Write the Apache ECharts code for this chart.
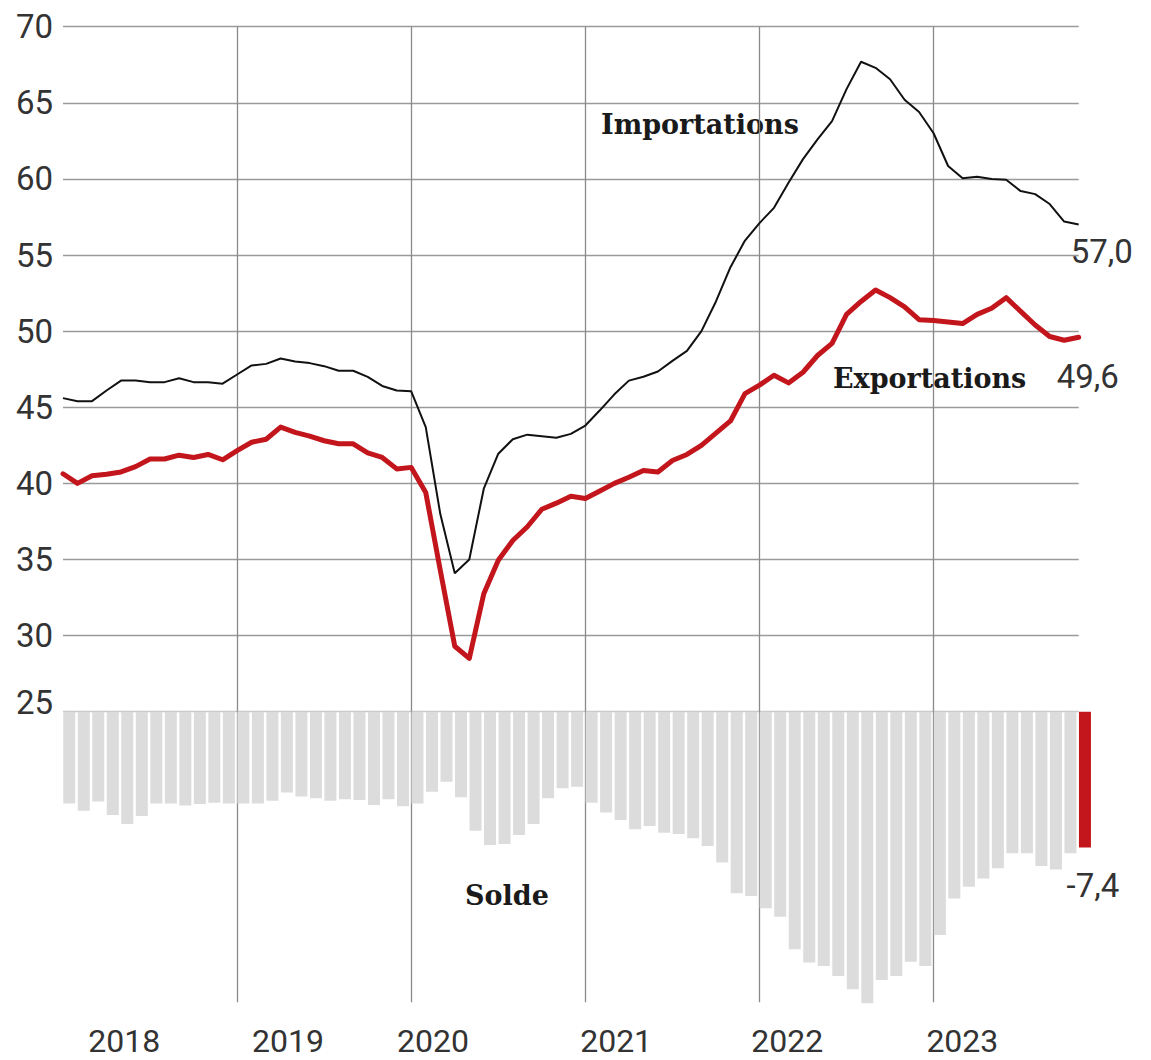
<!DOCTYPE html>
<html><head><meta charset="utf-8">
<script src="https://cdn.jsdelivr.net/npm/echarts@6/dist/echarts.min.js"></script>
<style>html,body{margin:0;padding:0;background:#fff}#c{width:1151px;height:1060px}</style>
</head><body><div id="c"></div>
<script>
// ---- DATA ----
const months = [
 '2018-01','2018-02','2018-03','2018-04','2018-05','2018-06','2018-07','2018-08','2018-09','2018-10','2018-11','2018-12',
 '2019-01','2019-02','2019-03','2019-04','2019-05','2019-06','2019-07','2019-08','2019-09','2019-10','2019-11','2019-12',
 '2020-01','2020-02','2020-03','2020-04','2020-05','2020-06','2020-07','2020-08','2020-09','2020-10','2020-11','2020-12',
 '2021-01','2021-02','2021-03','2021-04','2021-05','2021-06','2021-07','2021-08','2021-09','2021-10','2021-11','2021-12',
 '2022-01','2022-02','2022-03','2022-04','2022-05','2022-06','2022-07','2022-08','2022-09','2022-10','2022-11','2022-12',
 '2023-01','2023-02','2023-03','2023-04','2023-05','2023-06','2023-07','2023-08','2023-09','2023-10','2023-11'
];
const importations = [
 45.6, 45.4, 45.4, 46.1, 46.75, 46.75, 46.65, 46.65, 46.9, 46.65, 46.65, 46.55,
 47.15, 47.75, 47.85, 48.2, 48.0, 47.9, 47.7, 47.4, 47.4, 47.0, 46.4, 46.1,
 46.05, 43.7, 38.0, 34.1, 35.0, 39.65, 41.95, 42.9, 43.2, 43.1, 43.0, 43.25,
 43.8, 44.8, 45.85, 46.75, 47.0, 47.35, 48.05, 48.7, 50.0, 51.95, 54.2, 55.95,
 57.1, 58.1, 59.75, 61.3, 62.6, 63.8, 65.9, 67.7, 67.3, 66.55, 65.2, 64.4,
 63.0, 60.85, 60.05, 60.15, 60.0, 59.95, 59.2, 59.0, 58.35, 57.2, 57.0
];
const exportations = [
 40.63, 40.0, 40.5, 40.6, 40.75, 41.1, 41.6, 41.6, 41.85, 41.7, 41.9, 41.55,
 42.15, 42.7, 42.9, 43.7, 43.35, 43.1, 42.8, 42.6, 42.6, 42.0, 41.7, 40.95,
 41.05, 39.4, 34.3, 29.3, 28.5, 32.75, 34.95, 36.25, 37.15, 38.3, 38.7, 39.15,
 39.0, 39.5, 40.0, 40.4, 40.85, 40.75, 41.5, 41.9, 42.5, 43.3, 44.1, 45.9,
 46.45, 47.1, 46.6, 47.3, 48.4, 49.2, 51.1, 51.95, 52.7, 52.2, 51.6, 50.75,
 50.7, 50.6, 50.5, 51.1, 51.5, 52.2, 51.3, 50.4, 49.65, 49.4, 49.6
];
const solde = [
 -5.0, -5.4, -4.9, -5.63, -6.12, -5.69, -5.0, -5.0, -5.12, -5.03, -4.96, -5.0,
 -5.0, -5.0, -4.85, -4.41, -4.63, -4.72, -4.85, -4.78, -4.81, -5.09, -4.78, -5.15,
 -5.0, -4.36, -3.82, -4.67, -6.49, -7.27, -7.21, -6.72, -6.12, -4.72, -4.18, -4.09,
 -4.96, -5.5, -5.9, -6.41, -6.23, -6.6, -6.67, -6.9, -7.32, -8.23, -9.9, -10.05,
 -10.72, -11.18, -12.96, -13.68, -13.87, -14.41, -15.14, -15.9, -14.63, -14.41, -13.63, -13.87,
 -12.18, -10.18, -9.54, -9.09, -8.54, -7.72, -7.72, -8.41, -8.6, -7.72, -7.4
];
const yearLabels = ['2018', '2019', '2020', '2021', '2022', '2023'];
const yearLabelMonths = ['2018-05', '2019-04', '2020-02', '2021-03', '2022-02', '2023-02'];
const seriesNames = ['Importations', 'Exportations', 'Solde'];

// ---- STYLE ----
const NUM_FONT = 'Roboto, "Liberation Sans", sans-serif';
const NUM_SIZE = 33;
const YEAR_SIZE = 32;
const TXT = '#333333';
const GRID_COL = '#9a9a9a';
const VLINE_COL = '#8a8a8a';
const RED = '#c3161c';
const BAR_GREY = '#dcdcdc';
const SERIF = 'bold 27px "DejaVu Serif", serif';
const fmt = v => v.toFixed(1).replace('.', ',');
const yearShift = { '2018': [0, 6, 0, 0], '2019': [0, 0, 0, 2], '2020': [0, 0, 0, 2], '2021': [0, 9, 0, 0], '2022': [0, 0, 0, 14], '2023': [0, 0, 0, 16] };
const yearRich = {};
yearLabels.forEach(y => { yearRich['y' + y] = { padding: yearShift[y], fontSize: YEAR_SIZE, fontFamily: NUM_FONT, color: TXT, lineHeight: 26 }; });
const isYearStart = (i, v) => i > 0 && String(v).endsWith('-01');
const hLineColors = [];
for (let v = 25; v <= 70; v += 5) hLineColors.push(v === 25 ? '#c6c6c6' : GRID_COL);

const chart = echarts.init(document.getElementById('c'), null, { renderer: 'svg' });
chart.setOption({
  animation: false,
  backgroundColor: '#ffffff',
  grid: [
    { left: 63, right: 72.3, top: 26.7, height: 685 },        // lines
    { left: 62, right: 58.8, top: 711.7, height: 293.4 },     // bars
    { left: 63, right: 72.3, top: 711.7, height: 290.5 }      // year rules under the bars
  ],
  xAxis: [
    {
      type: 'category', gridIndex: 0, data: months, boundaryGap: false,
      axisLine: { show: false }, axisTick: { show: false }, axisLabel: { show: false },
      splitLine: { show: true, interval: isYearStart, lineStyle: { color: VLINE_COL, width: 1.3 } }
    },
    {
      type: 'category', gridIndex: 1, data: months, boundaryGap: true,
      axisLine: { show: false }, axisTick: { show: false },
      axisLabel: {
        show: true, interval: (i, v) => yearLabelMonths.includes(v), margin: 23,
        fontSize: YEAR_SIZE, fontFamily: NUM_FONT, color: TXT, lineHeight: 26,
        formatter: (v) => { const k = yearLabelMonths.indexOf(v); return k < 0 ? '' : '{y' + yearLabels[k] + '|' + yearLabels[k] + '}'; },
        rich: yearRich
      },
      splitLine: { show: false }
    },
    {
      type: 'category', gridIndex: 2, data: months, boundaryGap: false,
      axisLine: { show: false }, axisTick: { show: false }, axisLabel: { show: false },
      splitLine: { show: true, interval: isYearStart, lineStyle: { color: VLINE_COL, width: 1.3 } }
    }
  ],
  yAxis: [
    {
      type: 'value', gridIndex: 0, min: 25, max: 70, interval: 5,
      axisLine: { show: false }, axisTick: { show: false },
      axisLabel: {
        fontSize: NUM_SIZE, fontFamily: NUM_FONT, color: TXT, margin: 10,
        formatter: v => v === 25 ? '{low|25}' : String(v),
        rich: { low: { padding: [0, 0, 18, 0], fontSize: NUM_SIZE, fontFamily: NUM_FONT, color: TXT } }
      },
      splitLine: { show: true, lineStyle: { color: hLineColors, width: 1.3 } }
    },
    { type: 'value', gridIndex: 1, min: -16, max: 0, show: false },
    { type: 'value', gridIndex: 2, min: 0, max: 1, show: false }
  ],
  series: [
    {
      name: seriesNames[2], type: 'bar', xAxisIndex: 1, yAxisIndex: 1, barWidth: 12,
      data: solde.map((v, i) => i === solde.length - 1 ? {
        value: v,
        label: { show: true, position: 'bottom', distance: 22, offset: [8, 0], formatter: p => fmt(p.value),
          fontSize: NUM_SIZE, fontFamily: NUM_FONT, color: TXT }
      } : v),
      itemStyle: { color: p => p.dataIndex === solde.length - 1 ? RED : BAR_GREY },
      z: 1
    },
    {
      name: seriesNames[0], type: 'line', xAxisIndex: 0, yAxisIndex: 0, data: importations,
      symbol: 'none', lineStyle: { color: '#111111', width: 2 },
      endLabel: { show: true, distance: 0, offset: [-8, 27], formatter: p => fmt(p.value),
        fontSize: NUM_SIZE, fontFamily: NUM_FONT, color: TXT },
      z: 3
    },
    {
      name: seriesNames[1], type: 'line', xAxisIndex: 0, yAxisIndex: 0, data: exportations,
      symbol: 'none', lineStyle: { color: RED, width: 5, join: 'round', cap: 'round' },
      endLabel: { show: true, distance: 0, offset: [-22, 39], formatter: p => fmt(p.value),
        fontSize: NUM_SIZE, fontFamily: NUM_FONT, color: TXT },
      z: 4
    }
  ],
  graphic: [
    { type: 'text', left: 601, top: 111, style: { text: seriesNames[0], font: SERIF, fill: '#1a1a1a' } },
    { type: 'text', left: 833, top: 365, style: { text: seriesNames[1], font: SERIF, fill: '#1a1a1a' } },
    { type: 'text', left: 465, top: 882, style: { text: seriesNames[2], font: SERIF, fill: '#1a1a1a' } }
  ]
});
</script>
</body></html>
